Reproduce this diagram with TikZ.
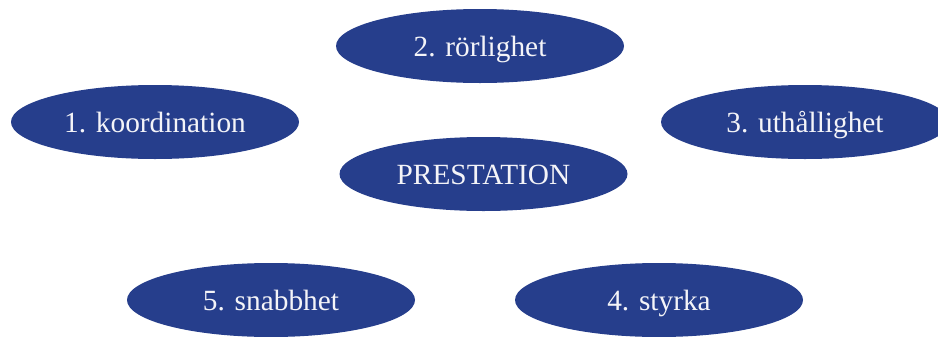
\documentclass[tikz,border=0pt]{standalone}
\usepackage{fontspec}
\setmainfont{Liberation Serif}
\usetikzlibrary{shapes.geometric}
\definecolor{ovalblue}{HTML}{263E8C}
\definecolor{ovaltext}{HTML}{F4F4F8}
\tikzset{
  oval/.style={ellipse, fill=ovalblue, draw=none, inner sep=0pt,
    minimum width=216pt, minimum height=55.5pt,
    text height=18pt, text depth=2pt,
    text=ovaltext, font=\fontsize{22}{24}\selectfont}
}
\begin{document}
\begin{tikzpicture}[x=0.75pt,y=-0.75pt]
\useasboundingbox (0,0) rectangle (938,336);
\clip (0,0) rectangle (938,336);
\node[oval] (rorlighet) at (480,46) {2. rörlighet};
\node[oval] (koordination) at (155,122) {1. koordination};
\node[oval] (uthallighet) at (805,122) {3. uthållighet};
\node[oval] (prestation) at (483.5,174) {PRESTATION};
\node[oval] (snabbhet) at (271,300) {5. snabbhet};
\node[oval] (styrka) at (659,300) {4. styrka};
\end{tikzpicture}
\end{document}
